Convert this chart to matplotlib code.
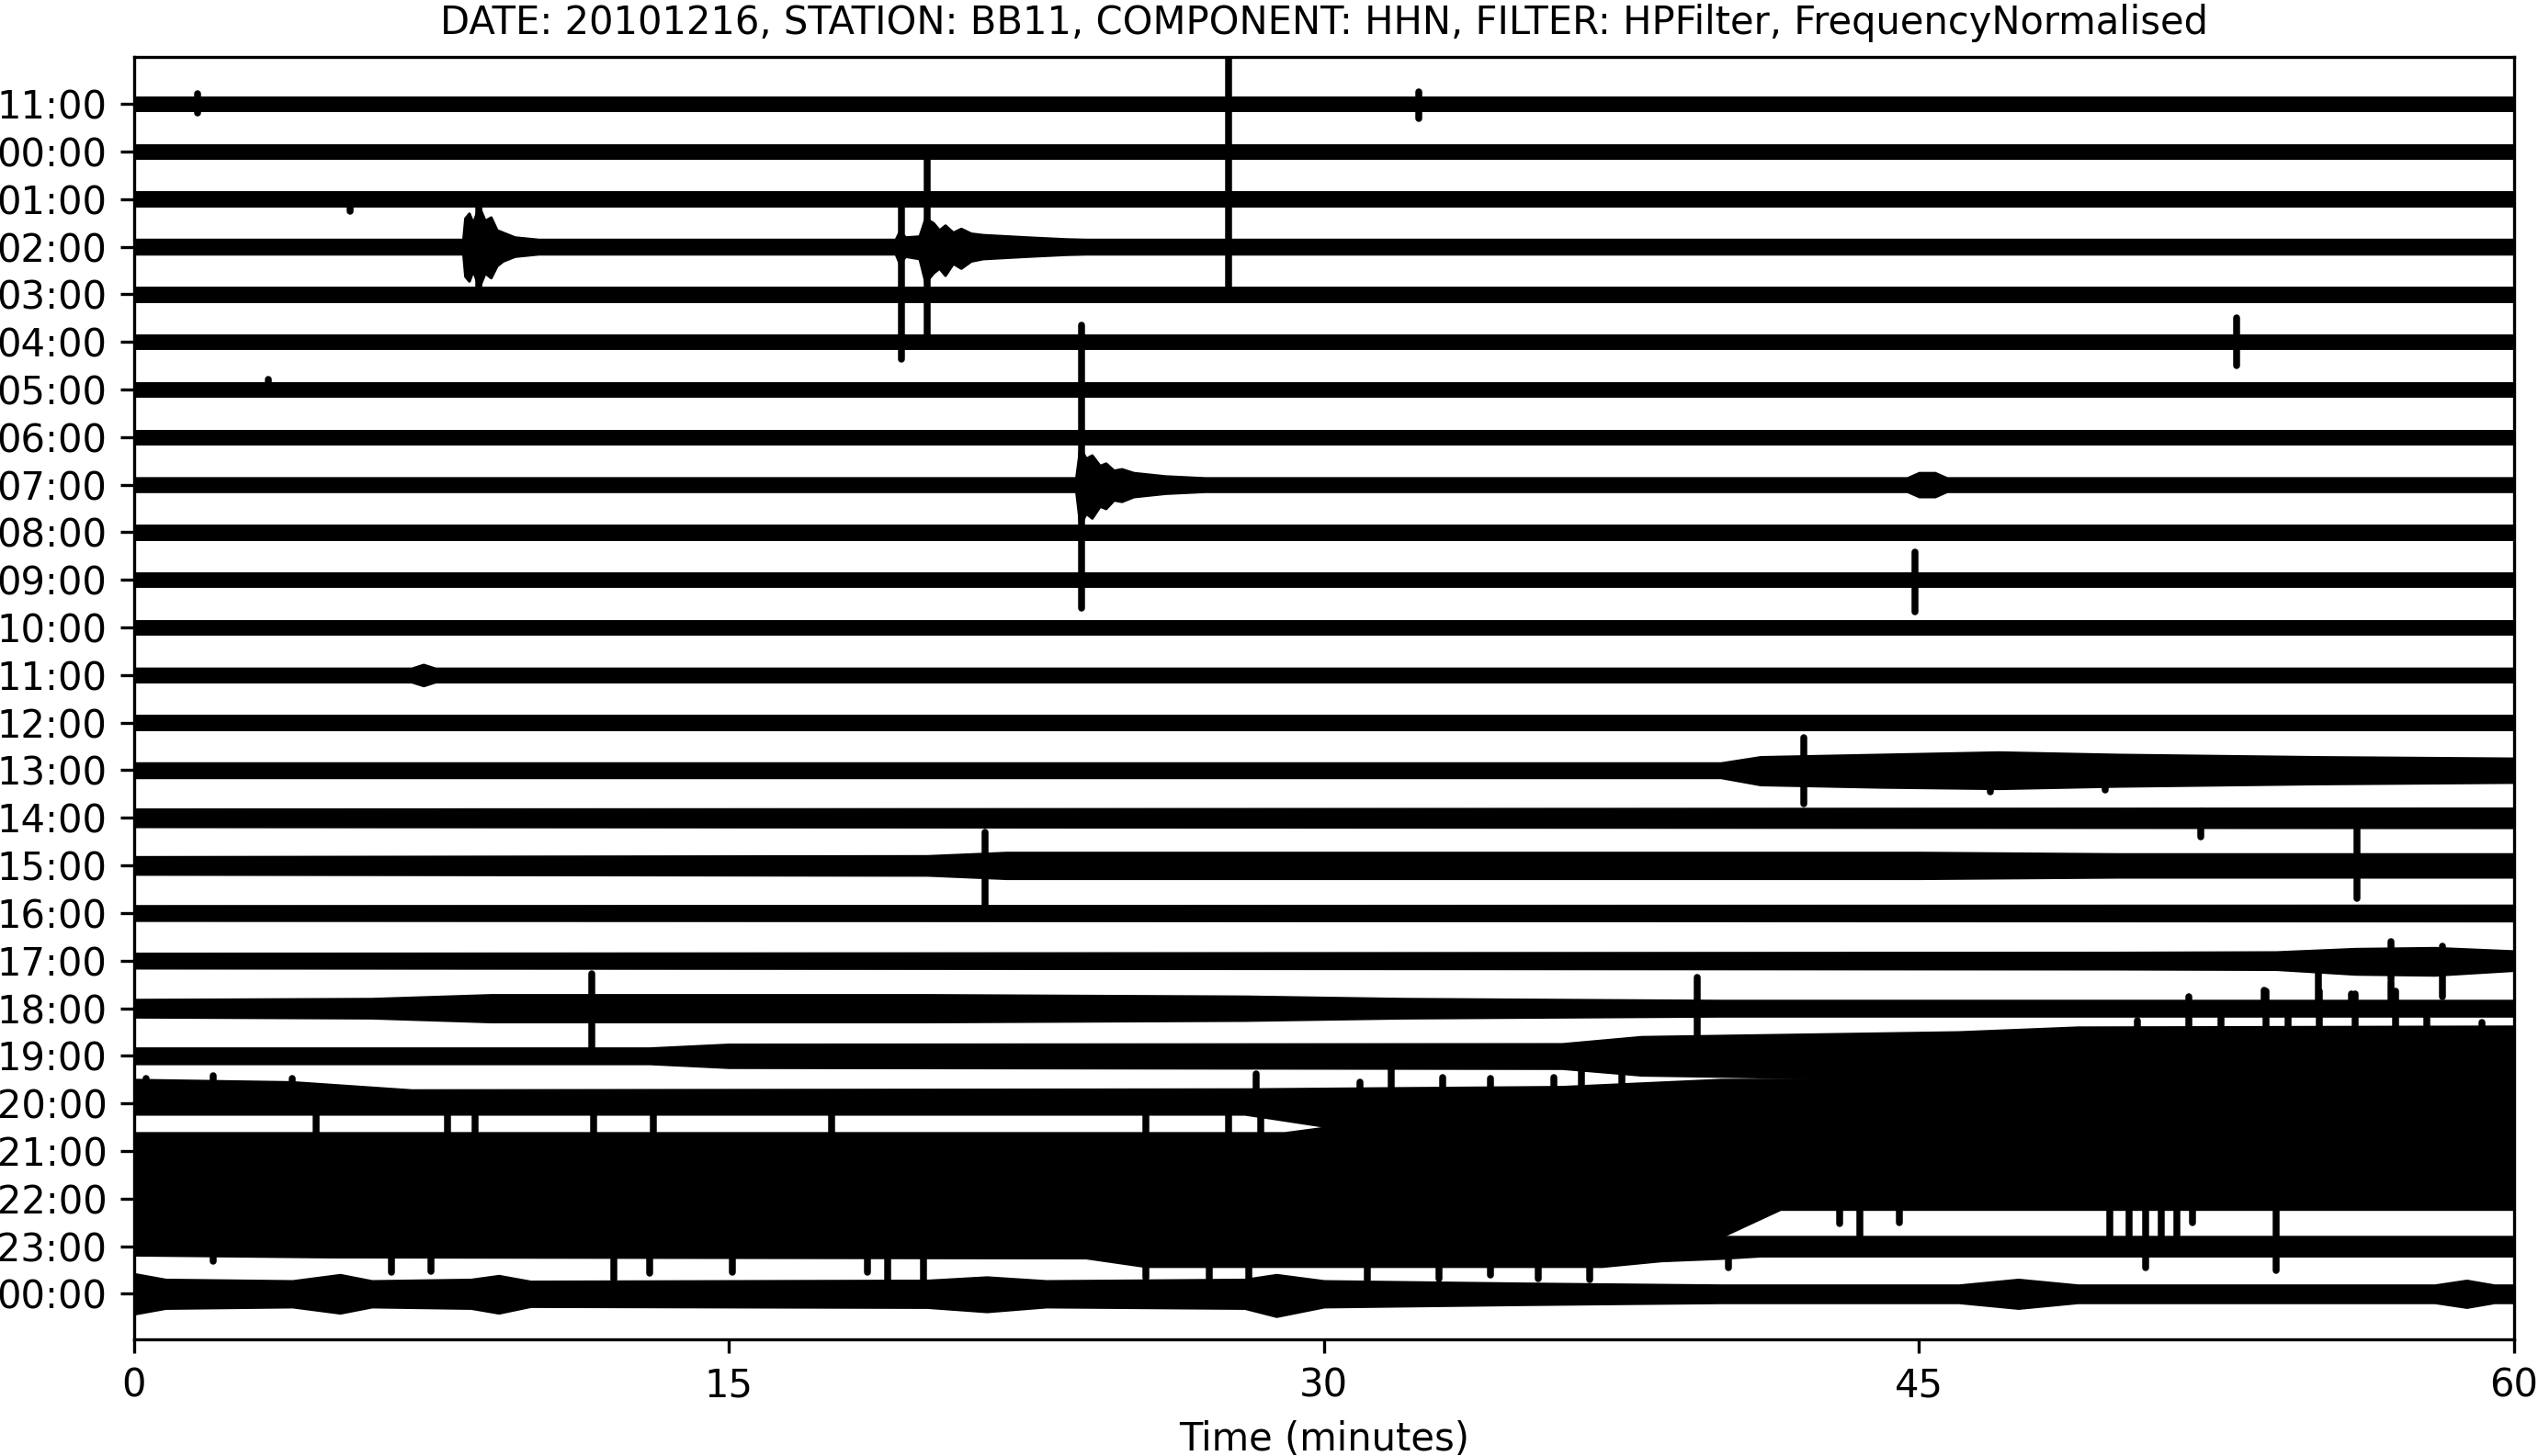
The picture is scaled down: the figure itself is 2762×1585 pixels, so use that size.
import matplotlib
matplotlib.use("Agg")
import matplotlib.pyplot as plt

TITLE = "DATE: 20101216, STATION: BB11, COMPONENT: HHN, FILTER: HPFilter, FrequencyNormalised"
ROW_LABELS = ["11:00", "00:00", "01:00", "02:00", "03:00", "04:00", "05:00", "06:00",
              "07:00", "08:00", "09:00", "10:00", "11:00", "12:00", "13:00", "14:00",
              "15:00", "16:00", "17:00", "18:00", "19:00", "20:00", "21:00", "22:00",
              "23:00", "00:00"]
X_TICKS = [0, 15, 30, 45, 60]

# trace envelope per row: (minute, half-width above, half-width below)
# in units of the row spacing
QUIET = [(0, 0.14, 0.14), (60, 0.14, 0.14)]
ENVELOPES = [
    QUIET,                                                    # 11:00
    QUIET,                                                    # 00:00
    QUIET,                                                    # 01:00
    [(0, .15, .15), (8.3, .15, .15), (8.35, .6, .62), (8.45, .7, .72), (8.55, .5, .5),
     (8.7, .85, .86), (8.85, .55, .55), (9.0, .62, .65), (9.15, .35, .4), (9.3, .3, .3),
     (9.6, .2, .2), (10.2, .15, .15), (19.2, .15, .15), (19.3, .32, .35), (19.45, .2, .2),
     (19.8, .22, .25), (19.95, .6, .75), (20.15, .5, .55), (20.3, .35, .45), (20.45, .45, .6),
     (20.65, .3, .35), (20.85, .38, .45), (21.1, .28, .3), (21.4, .25, .25), (22.5, .2, .2),
     (23.5, .16, .16), (24, .15, .15), (60, .15, .15)],       # 02:00
    QUIET,                                                    # 03:00
    QUIET,                                                    # 04:00
    QUIET,                                                    # 05:00
    QUIET,                                                    # 06:00
    [(0, .14, .14), (23.75, .14, .14), (23.85, .78, .85), (24.0, .55, .6), (24.15, .62, .7),
     (24.35, .4, .45), (24.5, .45, .5), (24.7, .3, .32), (24.9, .33, .35), (25.2, .25, .25),
     (26, .18, .18), (27, .14, .14), (44.7, .14, .14), (45.0, .25, .25),
     (45.4, .25, .25), (45.7, .14, .14), (60, .14, .14)],     # 07:00
    QUIET,                                                    # 08:00
    QUIET,                                                    # 09:00
    QUIET,                                                    # 10:00
    [(0, .14, .14), (7.0, .14, .14), (7.3, .22, .22), (7.6, .14, .14), (60, .14, .14)],  # 11:00
    [(0, .14, .14), (60, .14, .14)],                          # 12:00
    [(0, .15, .15), (40, .15, .15), (41, .28, .3), (44, .33, .35), (47, .38, .38),
     (50, .33, .33), (55, .28, .28), (60, .25, .25)],         # 13:00
    [(0, .18, .18), (60, .2, .2)],                            # 14:00
    [(0, .18, .18), (20, .2, .2), (22, .27, .27), (45, .27, .27), (50, .24, .24),
     (60, .24, .24)],                                         # 15:00
    [(0, .15, .15), (60, .16, .16)],                          # 16:00
    [(0, .15, .15), (50, .17, .17), (54, .18, .18), (56, .25, .28), (58, .27, .3),
     (60, .2, .2)],                                           # 17:00
    [(0, .18, .18), (6, .2, .2), (9, .28, .28), (20, .28, .28), (28, .25, .25),
     (32, .2, .2), (40, .16, .16), (60, .16, .16)],           # 18:00
    [(0, .16, .16), (13, .16, .16), (15, .24, .24), (36, .25, .26), (38, .4, .4),
     (46, .5, .5), (49, .6, .5), (60, .62, .5)],              # 19:00
    [(0, .5, .22), (4, .45, .22), (7, .28, .22), (28, .3, .22), (31, .32, .6),
     (36, .35, .6), (40, .5, .6), (60, .55, .6)],             # 20:00
    [(0, .38, .62), (29, .38, .62), (31, .6, .62), (60, .6, .65)],  # 21:00
    [(0, .55, .8), (40, .55, .8), (41.5, .35, .22), (60, .35, .22)],  # 22:00
    [(0, .2, .18), (5, .2, .22), (24, .2, .24), (25.5, .2, .42), (37, .2, .42),
     (38.5, .2, .3), (40, .2, .25), (41, .2, .2), (60, .2, .2)],  # 23:00
    [(0, .42, .42), (0.8, .3, .3), (4, .27, .27), (5.2, .4, .4), (6, .27, .27),
     (8.5, .3, .3), (9.2, .38, .4), (10, .26, .26), (20, .28, .28), (21.5, .35, .37),
     (23, .27, .27), (28, .3, .3), (28.8, .4, .47), (30, .27, .27), (35, .22, .22),
     (40, .18, .18), (46, .18, .18), (47.5, .3, .3), (49, .18, .18), (58, .18, .18),
     (58.8, .28, .28), (59.5, .18, .18), (60, .18, .18)],     # 00:00
]

# single spikes: (row, minute, reach above, reach below), row-spacing units
SPIKES = [
    (0, 1.6, .22, .2), (0, 32.4, .25, .3),
    (2, 5.45, 0, .25), (6, 3.4, .22, 0),
    (3, 8.7, .85, .86), (3, 19.35, .9, 2.37), (3, 20.0, 1.85, 1.9),
    (4, 27.6, 5.3, 0.0),
    (5, 53.0, .5, .5),
    (8, 23.9, 3.35, 2.6),
    (10, 44.9, .58, .68),
    (14, 42.1, .68, .7), (14, 46.8, .2, .45), (14, 49.7, .2, .42),
    (15, 52.1, .15, .4),
    (16, 21.45, .7, .88), (16, 56.05, .9, .7),
    (18, 55.07, .15, .9), (18, 56.9, .4, .4), (18, 58.2, .3, .75),
    (19, 11.55, .73, .85), (19, 39.4, .65, 1.0), (19, 53.7, .38, 0), (19, 55.9, .3, 0),
    (19, 56.9, .56, 0),
    (20, 50.5, .75, 0), (20, 51.8, 1.25, 0), (20, 52.6, .8, 0), (20, 53.75, 1.35, 0),
    (20, 54.3, .85, 0), (20, 55.1, 1.35, 0), (20, 56.0, 1.3, 0), (20, 57.0, 1.35, 0),
    (20, 57.8, .85, 0), (20, 59.2, .7, 0),
    (21, 0.3, .52, 0), (21, 2.0, .59, 0), (21, 4.0, .52, 0), (21, 28.3, .62, 0),
    (21, 30.9, .45, 0), (21, 31.7, .75, 0), (21, 33.0, .55, 0), (21, 34.2, .52, 0),
    (21, 35.8, .55, 0), (21, 36.5, .78, 0), (21, 37.5, .68, 0),
    (22, 4.6, .82, 0), (22, 7.9, .85, 0), (22, 8.6, .82, 0), (22, 11.6, .85, 0),
    (22, 13.1, .85, 0), (22, 17.6, .8, 0), (22, 25.5, .82, 0), (22, 27.6, .85, 0),
    (22, 28.4, .8, 0),
    (23, 43.0, 0, .53), (23, 43.5, 0, .78), (23, 44.5, 0, .5), (23, 49.8, 0, .78),
    (23, 50.3, 0, .78), (23, 50.7, 0, .78), (23, 51.1, 0, .78), (23, 51.5, 0, .78),
    (23, 51.9, 0, .5), (23, 54.0, 0, .78),
    (24, 2.0, 0, .32), (24, 6.5, 0, .55), (24, 7.5, 0, .52), (24, 12.1, 0, .7),
    (24, 13.0, 0, .57), (24, 15.1, 0, .54), (24, 18.5, 0, .54), (24, 19.0, 0, .73),
    (24, 19.9, 0, .73), (24, 25.5, 0, .67), (24, 27.1, 0, .7), (24, 28.1, 0, .8),
    (24, 31.1, 0, .7), (24, 32.9, 0, .68), (24, 34.2, 0, .6), (24, 35.4, 0, .68),
    (24, 36.7, 0, .7), (24, 40.2, 0, .45), (24, 50.7, 0, .45), (24, 54.0, 0, .5),
]


def main():
    fig = plt.figure(figsize=(2762 / 300, 1585 / 300), dpi=300)
    ax = fig.add_axes([0.0527, 0.080, 0.9379, 0.8807])

    for row, knots in enumerate(ENVELOPES):
        t = [k[0] for k in knots]
        top = [row - k[1] for k in knots]
        bot = [row + k[2] for k in knots]
        ax.fill_between(t, top, bot, color="black", lw=0.7, edgecolor="black")

    for row, t, up, down in SPIKES:
        lc = ax.vlines(t, row - up, row + down, color="black", lw=1.8)
        lc.set_capstyle("round")

    ax.set_xlim(0, 60)
    ax.set_ylim(25.96, -0.98)
    ax.set_xticks(X_TICKS)
    ax.set_yticks(range(len(ROW_LABELS)))
    ax.set_yticklabels(ROW_LABELS)
    ax.set_xlabel("Time (minutes)")
    ax.set_title(TITLE, fontsize=10)

    fig.savefig("out.png", dpi=300)


if __name__ == "__main__":
    main()
